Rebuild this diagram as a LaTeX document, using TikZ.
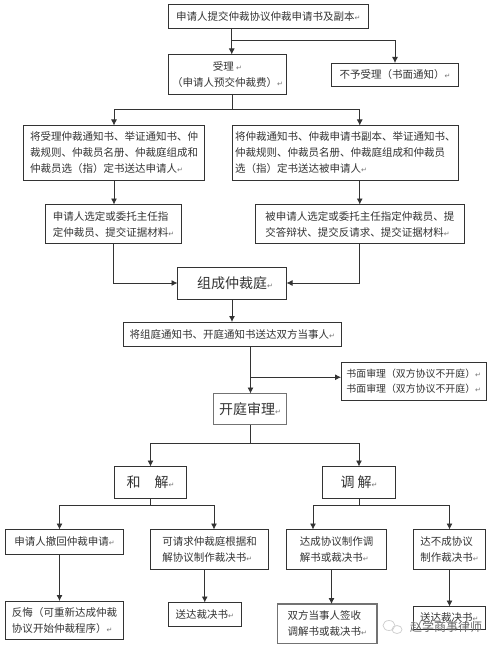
\documentclass[tikz,border=0pt]{standalone}
\usepackage{fontspec}
\setmainfont{Noto Sans CJK SC}
\newfontfamily\markfont{DejaVu Sans}
\usepackage{tikz}
\usetikzlibrary{arrows.meta,positioning,calc}
\newcommand{\ret}{{\markfont\fontsize{7}{7}\selectfont\textcolor{black!55}{↵}}}
\begin{document}
\begin{tikzpicture}[x=1pt,y=1pt,every node/.style={font=\fontsize{10.5}{16}\selectfont,text=black!80},box/.style 2 args={draw=black!80,line width=0.8pt,align=left,inner sep=0pt,outer sep=0pt,anchor=north west,minimum width=#1,minimum height=#2},big/.style={font=\fontsize{14}{16}\selectfont},soft/.style={draw=black!55,line width=1.2pt},arr/.style={-{Latex[length=6pt,width=6pt]},draw=black!80,line width=0.8pt},lin/.style={draw=black!80,line width=0.8pt}]
\useasboundingbox (0,0) rectangle (496,-647);
\node[box={199.5pt}{23.5pt}] (apply) at (168.5,-4.5) {申请人提交仲裁协议仲裁申请书及副本\ret};
\node[box={118pt}{39.5pt},below=26.5pt of apply.south west,anchor=north west,align=center] (accept) {受理\ \ret\\（申请人预交仲裁费）\ret};
\node[box={127pt}{23.5pt},right=45pt of accept.north east,anchor=north west,yshift=-8.5pt] (reject) {不予受理（书面通知）\ret};
\node[box={181pt}{55pt},below=31.5pt of accept.south west,anchor=north west,xshift=-145pt] (noticeA) {将受理仲裁通知书、举证通知书、仲\\裁规则、仲裁员名册、仲裁庭组成和\\仲裁员选（指）定书送达申请人\ret};
\node[box={226.5pt}{55pt},right=27.5pt of noticeA.north east,anchor=north west] (noticeB) {将仲裁通知书、仲裁申请书副本、举证通知书、\\仲裁规则、仲裁员名册、仲裁庭组成和仲裁员\\选（指）定书送达被申请人\ret};
\node[box={136pt}{39pt},below=24pt of noticeA.south west,anchor=north west,xshift=22pt] (chooseA) {申请人选定或委托主任指\\定仲裁员、提交证据材料\ret};
\node[box={208.5pt}{39pt},right=74pt of chooseA.north east,anchor=north west] (chooseB) {被申请人选定或委托主任指定仲裁员、提\\交答辩状、提交反请求、提交证据材料\ret};
\node[box={109pt}{32pt},big,below=23.5pt of chooseA.south west,anchor=north west,xshift=132pt] (court) {\raisebox{-2pt}{\hspace{6pt}组成仲裁庭\ret}};
\node[box={217.5pt}{24pt},below=23pt of court.south west,anchor=north west,xshift=-54pt] (serve) {将组庭通知书、开庭通知书送达双方当事人\ret};
\node[box={145.5pt}{38.5pt},font=\fontsize{9.9}{15}\selectfont,below=16pt of serve.south east,anchor=north west] (paper) {书面审理（双方协议不开庭）\ret\\书面审理（双方协议不开庭）\ret};
\node[box={73pt}{31pt},big,soft,below=47.5pt of serve.south west,anchor=north west,xshift=90pt] (hearing) {\raisebox{-1pt}{开庭审理\ret}};
\node[box={72pt}{32pt},big,below=42pt of hearing.south west,anchor=north west,xshift=-99pt] (settle) {和\quad 解\ret};
\node[box={73pt}{32pt},big,right=136pt of settle.north east,anchor=north west] (mediate) {调\ 解\ret};
\node[box={118pt}{24.5pt},below=31pt of settle.south west,anchor=north west,xshift=-109pt] (withdraw) {申请人撤回仲裁申请\ret};
\node[box={118pt}{39.5pt},right=27pt of withdraw.north east,anchor=north west] (award) {可请求仲裁庭根据和\\解协议制作裁决书\ret};
\node[box={100pt}{39.5pt},right=18pt of award.north east,anchor=north west] (agree) {达成协议制作调\\解书或裁决书\ret};
\node[box={72pt}{39.5pt},right=27pt of agree.north east,anchor=north west] (fail) {达不成协议\\制作裁决书\ret};
\node[box={118pt}{38.5pt},below=47pt of withdraw.south west,anchor=north west] (regret) {反悔（可重新达成仲裁\\协议开始仲裁程序）\ret};
\node[box={72.5pt}{24pt},below=33.5pt of award.south west,anchor=north west,xshift=18pt] (deliverA) {送达裁决书\ret};
\node[box={99.5pt}{39.5pt},soft,below=35pt of agree.south west,anchor=north west,xshift=-9pt] (signed) {双方当事人签收\\调解书或裁决书\ret};
\node[box={71.5pt}{23pt},below=37.5pt of fail.south west,anchor=north west] (deliverB) {\raisebox{1.5pt}{送达裁决书\ret}};
% trunk points
\coordinate (t1) at ([xshift=-36.5pt]apply.south);
\coordinate (t2) at ($(accept.south)+(4.5,-15.5)$);
\coordinate (t3) at ([xshift=18.25pt]serve.south);
\draw[arr] (t1)--(t1|-accept.north);
\draw[arr] ($(t1)+(0,-12)$)-|(reject.north);
\draw[lin] (t2|-accept.south)--(t2);
\draw[arr] (t2)-|(noticeA.north);
\draw[arr] (t2)-|(chooseB.north|-noticeB.north);
\draw[arr] (noticeA.south)--(noticeA.south|-chooseA.north);
\draw[arr] (chooseB.north|-noticeB.south)--(chooseB.north);
\draw[arr] (chooseA.south)|-(court.west);
\draw[arr] (chooseB.south)|-(court.east);
\draw[arr] (court.south)--(court.south|-serve.north);
\draw[arr] (t3)--(t3|-hearing.north);
\draw[arr] ($(t3|-paper.west)+(0,4)$)--([yshift=4pt]paper.west);
\draw[lin] (t3|-hearing.south)--($(t3|-hearing.south)+(0,-18.7)$) coordinate (t5);
\draw[arr] (t5)-|(settle.north);
\draw[arr] (t5)-|(mediate.north);
\draw[lin] (settle.south)--($(settle.south)+(0,-7)$) coordinate (t6);
\draw[arr] (t6)-|([xshift=-5pt]withdraw.north);
\draw[arr] (t6)-|([xshift=4.5pt]award.north);
\draw[lin] (mediate.south)--($(mediate.south)+(0,-7)$) coordinate (t7);
\draw[arr] (t7)-|([xshift=-23.5pt]agree.north);
\draw[arr] (t7)-|(fail.north);
\draw[arr] ([xshift=-5pt]withdraw.south)--([xshift=-5pt]withdraw.south|-regret.north);
\draw[arr] (deliverA.north|-award.south)--(deliverA.north);
\draw[arr] ([xshift=-5pt]agree.south)--([xshift=-5pt]agree.south|-signed.north);
\draw[arr] (fail.south)--(fail.south|-deliverB.north);
% watermark
\node[font=\fontsize{12}{12}\selectfont,text=black!60,inner sep=0pt,anchor=west] (brand) at ([xshift=-3.5pt,yshift=-20pt]deliverB.north west) {赵学商事律师};
\draw[black!18,line width=0.8pt] ([xshift=-21pt,yshift=1pt]brand.west) ellipse (6pt and 5pt);
\draw[black!18,line width=0.8pt] ([xshift=-13pt,yshift=-3pt]brand.west) ellipse (5pt and 4pt);
\end{tikzpicture}
\end{document}
